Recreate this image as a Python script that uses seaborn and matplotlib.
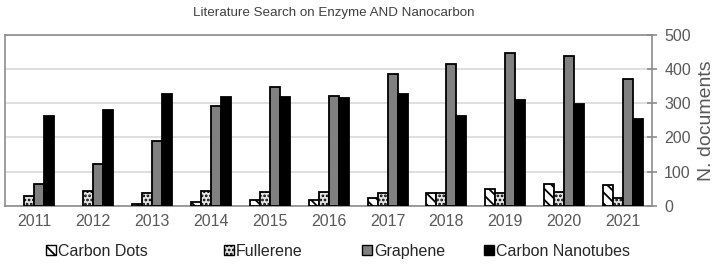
import matplotlib
matplotlib.use("Agg")
import matplotlib.pyplot as plt
import seaborn as sns
import pandas as pd
from matplotlib.patches import Patch

years = ["2011", "2012", "2013", "2014", "2015", "2016", "2017", "2018", "2019", "2020", "2021"]
carbon_dots = [0, 0, 6, 10, 16, 17, 22, 37, 50, 65, 60]
fullerene = [29, 43, 38, 43, 40, 40, 37, 37, 38, 41, 22]
graphene = [65, 122, 190, 293, 348, 320, 385, 415, 446, 438, 370]
nanotubes = [263, 280, 326, 318, 317, 316, 326, 262, 308, 299, 254]
series_names = ["Carbon Dots", "Fullerene", "Graphene", "Carbon Nanotubes"]
yticks = [0, 100, 200, 300, 400, 500]

rows = []
for name, vals in zip(series_names, [carbon_dots, fullerene, graphene, nanotubes]):
    for y, v in zip(years, vals):
        rows.append({"Year": y, "Series": name, "Value": v})
df = pd.DataFrame(rows)

sns.set_style("white")
plt.rcParams["font.family"] = ["Liberation Sans", "DejaVu Sans"]
plt.rcParams["hatch.linewidth"] = 1.3

fig = plt.figure(figsize=(7.2, 2.7), dpi=100)
ax = fig.add_axes([0.007, 0.238, 0.899, 0.633])

palette = {"Carbon Dots": "white", "Fullerene": "#e6e6e6", "Graphene": "#808080", "Carbon Nanotubes": "black"}
sns.barplot(data=df, x="Year", y="Value", hue="Series", hue_order=series_names, order=years,
            palette=palette, width=0.68, edgecolor="black", linewidth=1.3, ax=ax, legend=False, zorder=3)

hatches = ["\\\\\\", "....", "", ""]
for cont, h in zip(ax.containers, hatches):
    for p in cont:
        p.set_hatch(h)
        if p.get_height() == 0:
            p.set_linewidth(0)

ax.set_ylim(0, 500)
ax.set_xlim(-0.5, len(years) - 0.5)
ax.set_yticks(yticks)
ax.yaxis.tick_right()
ax.yaxis.set_label_position("right")
ax.set_ylabel("N. documents", fontsize=14, color="#595959", labelpad=5)
ax.set_xlabel("")
ax.grid(axis="y", color="#d9d9d9", linewidth=1.2, zorder=0)
ax.set_axisbelow(True)
for s in ["top", "left", "bottom", "right"]:
    ax.spines[s].set_visible(True)
    ax.spines[s].set_color("#8c8c8c")
    ax.spines[s].set_linewidth(1.2)
ax.tick_params(axis="y", which="both", right=True, direction="inout", length=7, width=1.2,
               color="#8c8c8c", labelsize=11.5, labelcolor="#595959", pad=5)
ax.tick_params(axis="x", length=0, labelsize=11.5, labelcolor="#595959", pad=6)

fig.text(0.463, 0.952, "Literature Search on Enzyme AND Nanocarbon", ha="center", va="center",
         fontsize=9.6, color="#404040")

legend_x = [46, 224, 362, 484]
for name, h, lx in zip(series_names, hatches, legend_x):
    handle = Patch(facecolor=palette[name], edgecolor="black", hatch=h, linewidth=1.0)
    fig.legend([handle], [name], loc="center left", bbox_to_anchor=(lx / 720, 0.07),
               frameon=False, fontsize=11.5, handlelength=0.6, handleheight=0.6,
               handletextpad=0.15, borderpad=0, borderaxespad=0)

fig.savefig("out.png", dpi=100)
